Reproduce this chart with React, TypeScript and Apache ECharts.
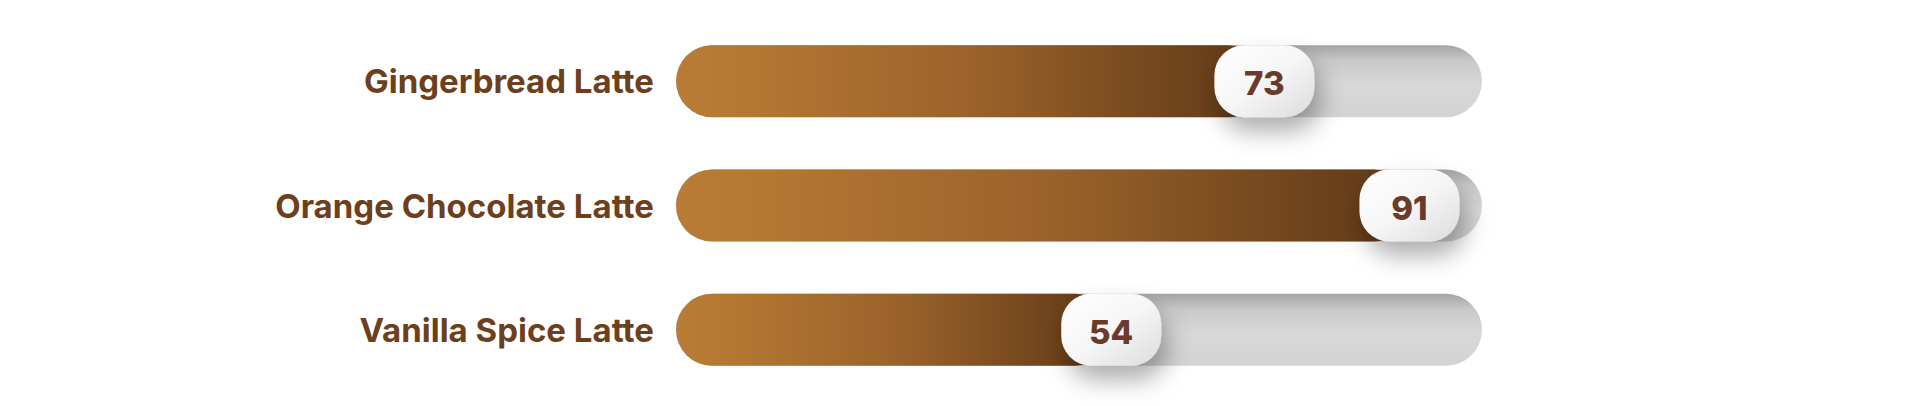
// Latte ratings shown as pill-shaped progress bars with a value badge

import { useEffect, useRef } from 'react';
import * as echarts from 'echarts';

const categories = ['Gingerbread Latte', 'Orange Chocolate Latte', 'Vanilla Spice Latte'];
const values = [73, 91, 54];
const maxValue = 100;

export default function App() {
    const chartRef = useRef<HTMLDivElement>(null);

    useEffect(() => {
        document.body.style.margin = '0';
        if (!chartRef.current) return;
        const chart = echarts.init(chartRef.current, undefined, { renderer: 'svg' });

        const option: echarts.EChartsOption = {
            animation: false,
            backgroundColor: '#ffffff',
            grid: { left: 676, right: 438, top: 19, bottom: 14 },
            xAxis: {
                type: 'value',
                min: 0,
                max: maxValue,
                show: false,
            },
            yAxis: {
                type: 'category',
                data: categories,
                inverse: true,
                axisLine: { show: false },
                axisTick: { show: false },
                splitLine: { show: false },
                axisLabel: {
                    margin: 22,
                    color: '#6e3f1c',
                    fontSize: 33,
                    fontWeight: 700,
                    fontFamily: 'Inter',
                },
            },
            series: [
                {
                    // grey track
                    type: 'bar',
                    data: categories.map(() => maxValue),
                    barWidth: 72,
                    barGap: '-100%',
                    silent: true,
                    z: 1,
                    itemStyle: {
                        borderRadius: 36,
                        color: new echarts.graphic.LinearGradient(0, 0, 0, 1, [
                            { offset: 0, color: '#a4a4a4' },
                            { offset: 0.22, color: '#c9c9c9' },
                            { offset: 0.55, color: '#d8d8d8' },
                            { offset: 1, color: '#d3d3d3' },
                        ]),
                    },
                },
                {
                    // brown fill
                    type: 'bar',
                    data: values,
                    barWidth: 72,
                    z: 2,
                    itemStyle: {
                        borderRadius: 36,
                        color: new echarts.graphic.LinearGradient(0, 0, 1, 0, [
                            { offset: 0, color: '#b97c36' },
                            { offset: 0.1, color: '#b67933' },
                            { offset: 0.5, color: '#9b632b' },
                            { offset: 1, color: '#5e3716' },
                        ]),
                    },
                },
                {
                    // white value badge at the end of the fill
                    type: 'custom',
                    z: 3,
                    data: values.map((v, i) => [v, i]),
                    encode: { x: 0, y: 1 },
                    renderItem: (params: any, api: any) => {
                        const pt = api.coord([api.value(0), api.value(1)]);
                        const w = 100;
                        const h = 72;
                        return {
                            type: 'group',
                            children: [
                                {
                                    type: 'rect',
                                    shape: { x: pt[0] - w / 2, y: pt[1] - h / 2, width: w, height: h, r: 30 },
                                    style: {
                                        fill: new echarts.graphic.LinearGradient(0, 0, 1, 1, [
                                            { offset: 0, color: '#ffffff' },
                                            { offset: 0.5, color: '#f6f6f7' },
                                            { offset: 1, color: '#dcdcde' },
                                        ]),
                                        shadowColor: 'rgba(0, 0, 0, 0.32)',
                                        shadowBlur: 24,
                                        shadowOffsetX: 6,
                                        shadowOffsetY: 14,
                                    },
                                },
                                {
                                    type: 'text',
                                    style: {
                                        text: String(api.value(0)),
                                        x: pt[0],
                                        y: pt[1] + 2,
                                        align: 'center',
                                        verticalAlign: 'middle',
                                        fill: '#6a3b2b',
                                        fontSize: 33,
                                        fontWeight: 800,
                                        fontFamily: 'Inter',
                                    },
                                },
                            ],
                        };
                    },
                },
            ],
        };

        chart.setOption(option);

        return () => {
            chart.dispose();
        };
    }, []);

    return <div ref={chartRef} style={{ width: '1920px', height: '406px' }} />;
}
